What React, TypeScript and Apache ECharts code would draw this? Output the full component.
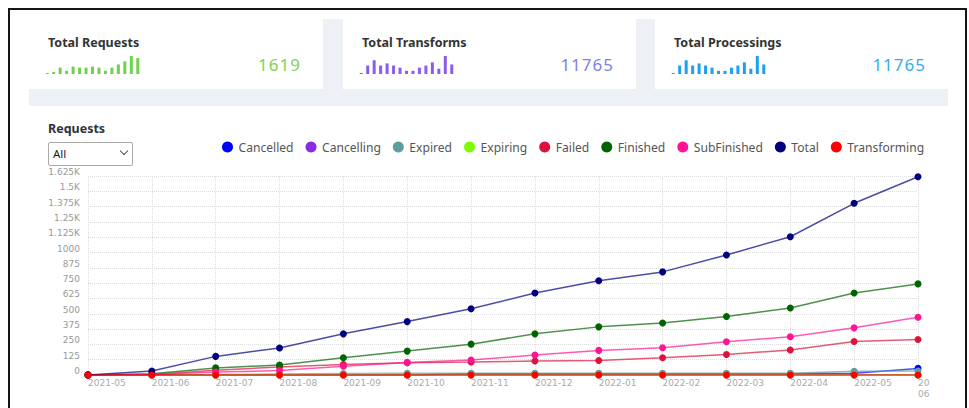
import React, { useEffect, useRef } from "react";
import * as echarts from "echarts";

const months = ["2021-05", "2021-06", "2021-07", "2021-08", "2021-09", "2021-10", "2021-11", "2021-12", "2022-01", "2022-02", "2022-03", "2022-04", "2022-05", "2022-06"];
const cancelled = [0, 0, 0, 0, 1, 0, 10, 10, 10, 10, 10, 10, 14, 54];
const cancelling = [0, 0, 0, 0, 0, 0, 0, 0, 0, 0, 0, 0, 0, 0];
const expired = [0, 0, 4, 8, 12, 14, 14, 14, 14, 14, 14, 14, 30, 32];
const expiring = [0, 0, 0, 0, 0, 0, 0, 0, 0, 0, 0, 0, 0, 0];
const failed = [0, 4, 38, 66, 86, 100, 106, 114, 119, 141, 168, 204, 274, 290];
const finished = [0, 11, 58, 82, 141, 195, 252, 336, 393, 425, 477, 547, 669, 744];
const subFinished = [0, 3, 24, 36, 71, 103, 122, 163, 201, 222, 271, 312, 385, 472];
const total = [1, 33, 152, 221, 336, 436, 541, 669, 769, 842, 980, 1129, 1402, 1619];
const transforming = [0, 0, 0, 0, 0, 0, 0, 0, 0, 0, 0, 0, 0, 0];

const seriesNames = ["Cancelled", "Cancelling", "Expired", "Expiring", "Failed", "Finished", "SubFinished", "Total", "Transforming"];
const seriesColors = ["#0000FF", "#8A2BE2", "#5F9EA0", "#7CFC00", "#DC143C", "#006400", "#FF1493", "#000080", "#FF0000"];
const seriesData = [cancelled, cancelling, expired, expiring, failed, finished, subFinished, total, transforming];

const yMax = 1625;
const yStep = 125;

const sparkRequests = [1, 2, 6, 3, 7, 6, 6, 7, 6, 3, 6, 9, 12, 17, 15];
const sparkTransforms = [1, 8, 13, 8, 10, 8, 6, 3, 3, 6, 8, 11, 5, 17, 9];
const sparkProcessings = [1, 8, 13, 8, 10, 8, 6, 3, 3, 6, 8, 11, 5, 17, 9];

const cardTitles = ["Total Requests", "Total Transforms", "Total Processings"];
const cardValues = ["1619", "11765", "11765"];

const FONT = "'Noto Sans', 'DejaVu Sans', sans-serif";

function Spark({ data, color, style }: { data: number[]; color: string; style: React.CSSProperties }) {
  const ref = useRef<HTMLDivElement>(null);
  useEffect(() => {
    if (!ref.current) return;
    const chart = echarts.init(ref.current, undefined, { renderer: "svg" });
    chart.setOption({
      animation: false,
      grid: { left: 0, right: 0, top: 0, bottom: 0 },
      xAxis: { type: "category", show: false, data: data.map((_, i) => String(i)) },
      yAxis: { type: "value", show: false, min: 0, max: 17 },
      series: [{ type: "bar", data, barWidth: 3, itemStyle: { color } }],
    });
    return () => chart.dispose();
  }, []);
  return <div ref={ref} style={{ position: "absolute", ...style }} />;
}

export default function App() {
  const mainRef = useRef<HTMLDivElement>(null);
  useEffect(() => {
    if (!mainRef.current) return;
    const chart = echarts.init(mainRef.current, undefined, { renderer: "svg" });
    chart.setOption({
      animation: false,
      legend: {
        data: seriesNames,
        left: 217,
        top: 26,
        icon: "circle",
        itemWidth: 12,
        itemHeight: 11,
        itemGap: 12,
        textStyle: { fontSize: 12.1, color: "#555", fontFamily: FONT },
      },
      grid: { left: 88, right: 51, top: 66, bottom: 33 },
      xAxis: {
        type: "category",
        data: months,
        boundaryGap: false,
        axisLine: { show: false },
        axisTick: { show: false },
        axisLabel: {
          align: "left",
          margin: 2,
          fontSize: 9,
          color: "#aaa",
          fontFamily: "'DejaVu Sans', sans-serif",
          lineHeight: 11,
          interval: 0,
          formatter: (v: string, i: number) => (i === months.length - 1 ? v.slice(0, 2) + "\n" + v.slice(5) : v),
        },
        splitLine: { show: true, lineStyle: { type: "dotted", color: "#ddd" } },
      },
      yAxis: {
        type: "value",
        min: 0,
        max: yMax,
        interval: yStep,
        axisLine: { show: false },
        axisTick: { show: false },
        axisLabel: {
          fontSize: 9,
          color: "#999",
          margin: 8,
          verticalAlign: "bottom",
          lineHeight: 8,
          fontFamily: "'DejaVu Sans', sans-serif",
          formatter: (v: number) => (v > 1000 ? v / 1000 + "K" : String(v)),
        },
        splitLine: { show: true, lineStyle: { type: "dotted", color: "#ddd" } },
      },
      series: seriesNames.map((name, i) => ({
        name,
        type: "line",
        data: seriesData[i],
        symbol: "circle",
        symbolSize: 7,
        showSymbol: true,
        color: seriesColors[i],
        itemStyle: { color: seriesColors[i] },
        lineStyle: { width: 1.5, opacity: 0.7, color: seriesColors[i] },
      })),
    });
    return () => chart.dispose();
  }, []);

  const cardLefts = [29, 343, 655];
  const cardWidths = [294, 293, 293];
  const sparkData = [sparkRequests, sparkTransforms, sparkProcessings];
  const barColors = ["#6fd24e", "#8a5cf0", "#1ea0f0"];
  const numColors = ["#7dd35c", "#7f7fe6", "#36ade8"];

  return (
    <div style={{ position: "fixed", left: 0, top: 0, width: 969, height: 408, overflow: "hidden", background: "#fff", fontFamily: FONT }}>
      <div style={{ position: "absolute", left: 8, top: 8, width: 959, height: 600, border: "2px solid #151515", boxSizing: "border-box" }} />
      <div style={{ position: "absolute", left: 29, top: 19, width: 919, height: 87, background: "#edf0f5" }} />
      {cardLefts.map((l, i) => (
        <div key={i} style={{ position: "absolute", left: l, top: 19, width: cardWidths[i], height: 70, background: "#fff" }}>
          <div style={{ position: "absolute", left: 19, top: 16, fontSize: 12.5, fontWeight: 700, color: "#333", lineHeight: "16px", whiteSpace: "nowrap" }}>{cardTitles[i]}</div>
          <div style={{ position: "absolute", right: 22, top: 35, fontSize: 17, letterSpacing: 1, color: numColors[i], lineHeight: "22px" }}>{cardValues[i]}</div>
        </div>
      ))}
      {cardLefts.map((l, i) => (
        <Spark key={"s" + i} data={sparkData[i]} color={barColors[i]} style={{ left: l + 15, top: 56, width: 97, height: 18 }} />
      ))}
      <div ref={mainRef} style={{ position: "absolute", left: 0, top: 110, width: 969, height: 298 }} />
      <div style={{ position: "absolute", left: 48, top: 121, fontSize: 12.5, fontWeight: 700, color: "#333", lineHeight: "16px" }}>Requests</div>
      <div style={{ position: "absolute", left: 48, top: 142, width: 85, height: 24, border: "1px solid #aaa", borderRadius: 2, boxSizing: "border-box", background: "#fff" }}>
        <span style={{ position: "absolute", left: 4, top: 4, fontSize: 11.5, color: "#222", lineHeight: "14px" }}>All</span>
        <span style={{ position: "absolute", right: 5, top: 5, width: 5, height: 5, borderRight: "1px solid #555", borderBottom: "1px solid #555", transform: "rotate(45deg)" }} />
      </div>
    </div>
  );
}
